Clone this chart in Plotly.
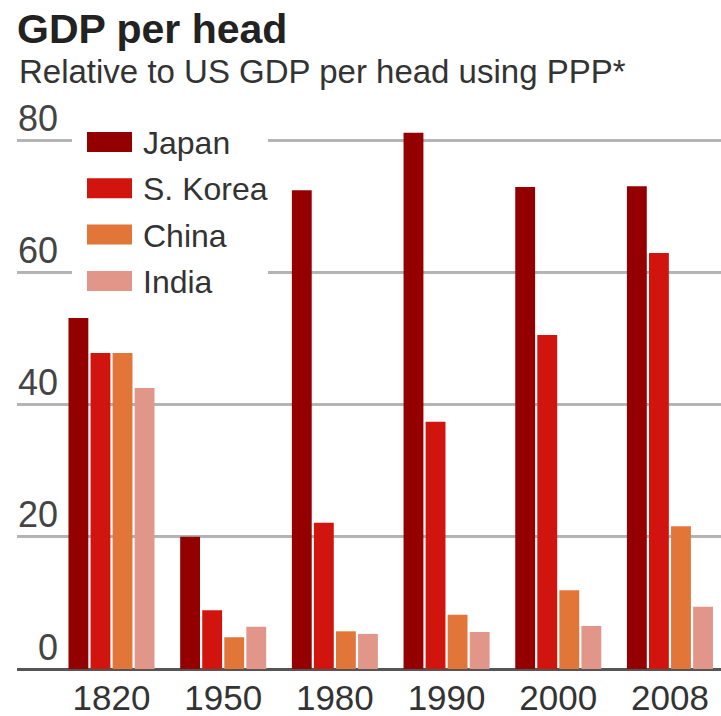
import plotly.graph_objects as go

# ---- data ----
years = ["1820", "1950", "1980", "1990", "2000", "2008"]
series_names = ["Japan", "S. Korea", "China", "India"]
japan = [53.1, 20.0, 72.4, 81.1, 72.9, 73.0]
korea = [47.8, 8.9, 22.1, 37.4, 50.5, 62.9]
china = [47.8, 4.8, 5.7, 8.2, 11.9, 21.6]
india = [42.5, 6.4, 5.3, 5.6, 6.5, 9.4]
y_ticks = [0, 20, 40, 60, 80]
title_text = "GDP per head"
subtitle_text = "Relative to US GDP per head using PPP*"

colors = ["#940000", "#d2140f", "#e27538", "#e2968a"]
FONT = "Liberation Sans, Arial, sans-serif"

W, H = 721, 716
L, R, T, B = 17, 0, 100, 47
PW, PH = W - L - R, H - T - B


def px(x):
    return (x - L) / PW


def py(y):
    return (H - B - y) / PH


xs = list(range(len(years)))
fig = go.Figure()
for name, vals, col in zip(series_names, [japan, korea, china, india], colors):
    fig.add_trace(go.Bar(x=xs, y=vals, name=name, marker=dict(color=col, line=dict(width=0))))

shapes = []
annotations = []

# white box behind legend (interrupts gridlines)
shapes.append(dict(type="rect", xref="paper", yref="paper",
                   x0=px(72), x1=px(268), y0=py(300), y1=py(124),
                   fillcolor="white", line=dict(width=0), layer="above"))
for i, (name, col) in enumerate(zip(series_names, colors)):
    cy = 142 + 46.3 * i
    shapes.append(dict(type="rect", xref="paper", yref="paper",
                       x0=px(87), x1=px(132), y0=py(cy + 10), y1=py(cy - 10),
                       fillcolor=col, line=dict(width=0), layer="above"))
    annotations.append(dict(text=name, xref="paper", yref="paper",
                            x=px(141), y=py(cy + 1), xanchor="left", yanchor="middle",
                            showarrow=False, font=dict(family=FONT, size=32, color="#333333")))

# y tick labels above gridlines
for v in y_ticks:
    annotations.append(dict(text=str(v), xref="paper", yref="y",
                            x=px(60), y=v + 3.3, xanchor="right", yanchor="middle",
                            showarrow=False, font=dict(family=FONT, size=36, color="#444444")))

# title / subtitle
annotations.append(dict(text="<b>" + title_text + "</b>", xref="paper", yref="paper",
                        x=px(15), y=py(29), xanchor="left", yanchor="middle",
                        showarrow=False, font=dict(family=FONT, size=41, color="#222222")))
annotations.append(dict(text=subtitle_text, xref="paper", yref="paper",
                        x=px(17), y=py(72), xanchor="left", yanchor="middle",
                        showarrow=False, font=dict(family=FONT, size=33, color="#333333")))

fig.update_layout(
    width=W, height=H,
    margin=dict(l=L, r=R, t=T, b=B, pad=0, autoexpand=False),
    paper_bgcolor="white", plot_bgcolor="white",
    barmode="group", bargap=0.21, bargroupgap=0.1,
    showlegend=False,
    shapes=shapes, annotations=annotations,
    xaxis=dict(range=[-0.846, 5.457], tickmode="array", tickvals=xs, ticktext=years,
               showgrid=False, zeroline=False, showline=False, ticks="",
               tickfont=dict(family=FONT, size=35, color="#333333"),
               ticklabelstandoff=5, automargin=False, fixedrange=True),
    yaxis=dict(range=[0, 86.05], tickmode="array", tickvals=y_ticks,
               showticklabels=False, showgrid=True, gridcolor="#b4b4b4", gridwidth=2.5,
               zeroline=True, zerolinecolor="#555555", zerolinewidth=3,
               showline=False, ticks="", automargin=False, fixedrange=True),
)

fig.write_html(
    "out.html",
    config={"displayModeBar": False},
    post_script="document.body.style.margin='0px';document.body.style.padding='0px';",
)
